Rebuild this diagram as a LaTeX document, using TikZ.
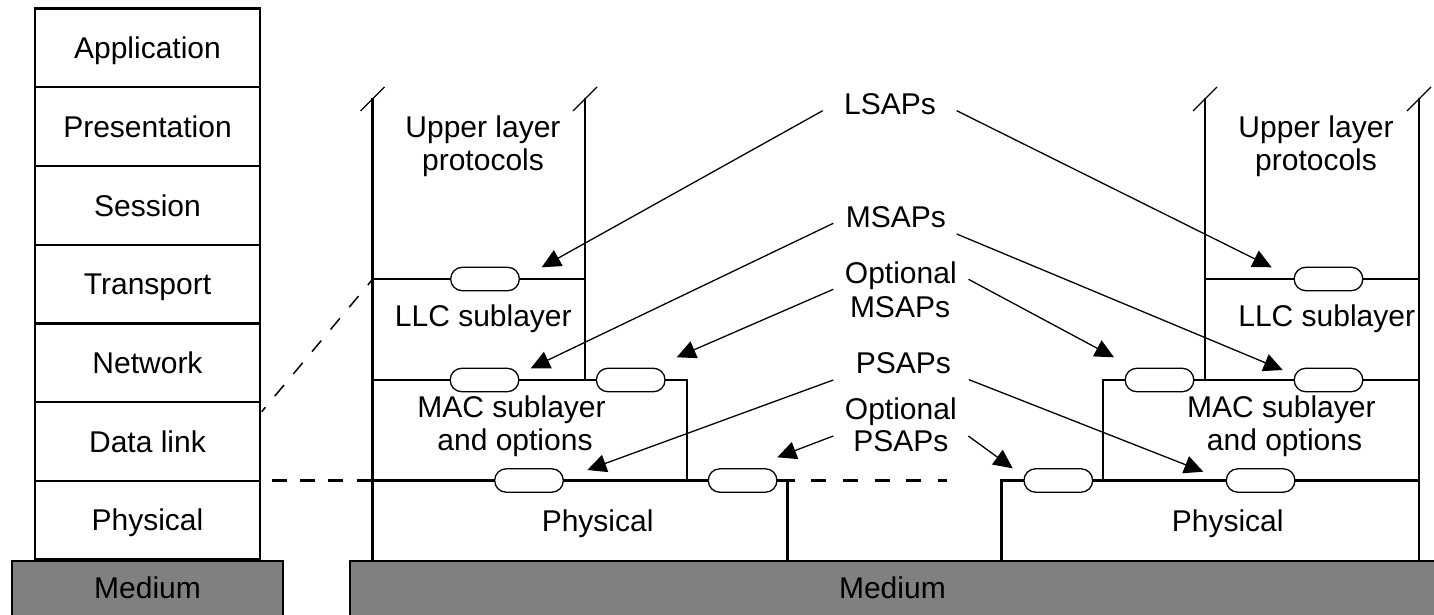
\documentclass[tikz,border=0pt]{standalone}
\usepackage{fontspec}
\setmainfont{Liberation Sans}
\usetikzlibrary{arrows.meta}
\definecolor{mediumgrey}{HTML}{808080}
\begin{document}
\begin{tikzpicture}[x=1pt,y=-1pt,
  font=\fontsize{30}{34}\selectfont,
  wall/.style={line width=2.2pt},
  cut/.style={line width=1.3pt},
  pill/.style={draw, fill=white, line width=1.3pt, rounded corners=11.5pt,
    minimum width=68.6pt, minimum height=23.4pt, inner sep=0pt},
  ptr/.style={line width=1.3pt, -{Triangle[length=19pt,width=18pt]}},
  dashA/.style={line width=2.2pt, dash pattern=on 15pt off 13.3pt, dash phase=16.6pt},
  dashB/.style={line width=2.2pt, dash pattern=on 15pt off 16.7pt, dash phase=7.9pt},
  dashC/.style={line width=1.5pt, dash pattern=on 14.5pt off 14.5pt, dash phase=8pt},
  lbl/.style={anchor=base, inner sep=0pt},
  layer/.style={draw, line width=2.2pt, minimum width=225pt, minimum height=78.7pt,
    inner sep=0pt, text height=21.5pt, text depth=0pt},
  medium/.style={draw, line width=2.2pt, fill=mediumgrey}]
\useasboundingbox (0,0) rectangle (1434,615);

% OSI stack
\node[layer] (app) at (147.5,47.95) {Application};
\node[layer] (pres) at (147.5,126.65) {Presentation};
\node[layer] (sess) at (147.5,205.35) {Session};
\node[layer] (trans) at (147.5,284.05) {Transport};
\node[layer] (net) at (147.5,362.75) {Network};
\node[layer] (dl) at (147.5,441.45) {Data link};
\node[layer] (phys) at (147.5,520.15) {Physical};

% left network structure
\coordinate (LA) at (372.5,98);
\coordinate (LB) at (585,98);
\draw[wall] (LA) -- (372.5,560);
\draw[wall] (LB) -- (585,380);
\draw[wall] (372.5,279) -- (585,279);
\draw[wall] (372.5,380) -- (687,380) -- (687,480.5);
\draw[wall] (372.5,480.5) -- (787.5,480.5) -- (787.5,560);
\draw[cut] (360.5,111) -- (384.5,87);
\draw[cut] (573,111) -- (597,87);

% right network structure
\coordinate (RA) at (1205,98);
\coordinate (RB) at (1419,98);
\draw[wall] (RB) -- (1419,560);
\draw[wall] (RA) -- (1205,380);
\draw[wall] (1205,279) -- (1419,279);
\draw[wall] (1419,380) -- (1103,380) -- (1103,480.5);
\draw[wall] (1419,480.5) -- (1001.5,480.5) -- (1001.5,560);
\draw[cut] (1193,111) -- (1217,87);
\draw[cut] (1407,111) -- (1431,87);

% dashed links
\coordinate (dA1) at (260,480.5);
\coordinate (dA2) at (372.5,480.5);
\coordinate (dB1) at (787.5,480.5);
\coordinate (dB2) at (946.7,480.5);
\coordinate (dC1) at (372,280);
\coordinate (dC2) at (261.7,411.7);
\draw[dashA] (dA1) -- (dA2);
\draw[dashB] (dB1) -- (dB2);
\draw[dashC] (dC1) -- (dC2);

% media
\draw[medium] (12,561) rectangle (283,630);
\draw[medium] (350,561) rectangle (1445,630);
\node[lbl] (medL) at (147.5,598) {Medium};
\node[lbl] (medR) at (892.4,598) {Medium};

% service access points
\node[pill] (pLlcL) at (485,279) {};
\node[pill] (pMacL1) at (484.5,380) {};
\node[pill] (pMacL2) at (630.7,380) {};
\node[pill] (pPhyL1) at (529,480.5) {};
\node[pill] (pPhyL2) at (742.6,480.5) {};
\node[pill] (pLlcR) at (1328.5,279) {};
\node[pill] (pMacR1) at (1159.5,380) {};
\node[pill] (pMacR2) at (1328.5,380) {};
\node[pill] (pPhyR1) at (1058.3,480.5) {};
\node[pill] (pPhyR2) at (1260.6,480.5) {};

% left texts
\node[lbl] (upL1) at (483,137) {Upper layer};
\node[lbl] (upL2) at (483,170) {protocols};
\node[lbl] (llcL) at (483.3,326) {LLC sublayer};
\node[lbl] (macL1) at (511.5,417) {MAC sublayer};
\node[lbl] (macL2) at (515,450) {and options};
\node[lbl] (phyL) at (597.6,531) {Physical};

% right texts
\node[lbl] (upR1) at (1316,137) {Upper layer};
\node[lbl] (upR2) at (1316,170) {protocols};
\node[lbl] (llcR) at (1326.7,326) {LLC sublayer};
\node[lbl] (macR1) at (1281.4,417) {MAC sublayer};
\node[lbl] (macR2) at (1284.5,450) {and options};
\node[lbl] (phyR) at (1227.7,531) {Physical};

% centre texts
\node[lbl] (lsap) at (890,115) {LSAPs};
\node[lbl] (msap) at (895.8,227) {MSAPs};
\node[lbl] (omsap1) at (900.8,283) {Optional};
\node[lbl] (omsap2) at (900,317) {MSAPs};
\node[lbl] (psap) at (903.3,373) {PSAPs};
\node[lbl] (opsap1) at (900.8,419) {Optional};
\node[lbl] (opsap2) at (900.8,451) {PSAPs};

% arrow end points
\coordinate (aLs) at (822.7,110.7);  \coordinate (aLt) at (541.7,267.3);
\coordinate (aRs) at (956.7,110.7);  \coordinate (aRt) at (1271.7,267.3);
\coordinate (bLs) at (833.3,223.3);  \coordinate (bLt) at (530.7,368.3);
\coordinate (bRs) at (956.7,234);    \coordinate (bRt) at (1282.7,370);
\coordinate (cLs) at (833.3,289.3);  \coordinate (cLt) at (676.7,357.3);
\coordinate (cRs) at (968.5,279.3);  \coordinate (cRt) at (1114,357.3);
\coordinate (dLs) at (833.3,380);    \coordinate (dLt) at (587.3,470);
\coordinate (dRs) at (968.8,379.6);  \coordinate (dRt) at (1203.3,471.7);
\coordinate (eLs) at (833.3,436);    \coordinate (eLt) at (777.3,457.3);
\coordinate (eRs) at (968.3,436);    \coordinate (eRt) at (1012.7,468.3);

\draw[ptr] (aLs) -- (aLt);
\draw[ptr] (aRs) -- (aRt);
\draw[ptr] (bLs) -- (bLt);
\draw[ptr] (bRs) -- (bRt);
\draw[ptr] (cLs) -- (cLt);
\draw[ptr] (cRs) -- (cRt);
\draw[ptr] (dLs) -- (dLt);
\draw[ptr] (dRs) -- (dRt);
\draw[ptr] (eLs) -- (eLt);
\draw[ptr] (eRs) -- (eRt);
\end{tikzpicture}
\end{document}
